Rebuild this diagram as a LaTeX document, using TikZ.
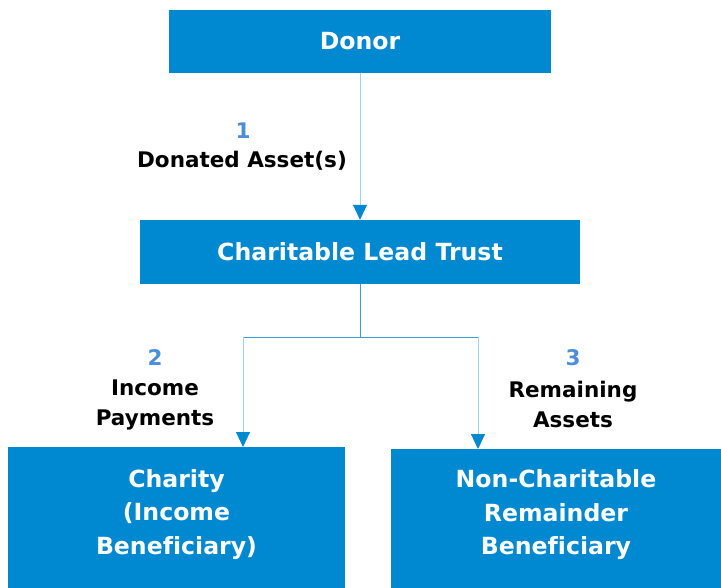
\documentclass[tikz,border=0pt]{standalone}
\usepackage{fontspec}
\setmainfont[Ligatures=NoCommon]{DejaVu Sans}
\usetikzlibrary{arrows.meta,positioning}

\definecolor{boxblue}{HTML}{0088D1}
\definecolor{numblue}{HTML}{4A90D9}
\definecolor{linklight}{HTML}{9DD3F2}
\definecolor{linkdark}{HTML}{3A9ADB}

\tikzset{
    box/.style={rectangle, fill=boxblue, inner sep=0pt},
    boxtext/.style={text=white, align=center, inner sep=0pt, font=\fontsize{23.6}{33.5}\selectfont\bfseries},
    flowlabel/.style={align=center, inner sep=0pt, font=\fontsize{21.5}{30}\selectfont\bfseries},
    flownum/.style={flowlabel, text=numblue},
    link/.style={draw=linklight, line width=0.9pt, -{Triangle[width=14pt,length=15pt,color=boxblue]}},
    stem/.style={draw=linkdark, line width=0.9pt}
}

\begin{document}
\begin{tikzpicture}[x=1pt,y={(0pt,-1pt)}]
    \useasboundingbox (0,0) rectangle (721,588);

    % boxes
    \node[box, minimum width=382pt, minimum height=63pt] (donor) at (360,41.5) {};
    \node[boxtext] (donortext) at (donor.center) {Donor};
    \node[box, minimum width=440pt, minimum height=64pt] (clt) at (360,252) {};
    \node[boxtext] (clttext) at (clt.center) {Charitable Lead Trust};
    \node[box, anchor=north, minimum width=337pt, minimum height=150pt] (charity) at (176.5,447) {};
    \node[boxtext] (charitytext) at ([yshift=-67.5pt]charity.north) {Charity\\(Income\\Beneficiary)};
    \node[box, anchor=north, minimum width=330pt, minimum height=150pt] (remainder) at (556,449) {};
    \node[boxtext] (remaindertext) at ([yshift=-66pt]remainder.north) {Non-Charitable\\Remainder\\Beneficiary};

    % labels
    \node[flownum] (num1) at (243,131) {1};
    \node[flowlabel] (lab1) at (242,161) {Donated Asset(s)};
    \node[flownum] (num2) at (155,358) {2};
    \node[flowlabel] (lab2) at (155,405) {Income\\Payments};
    \node[flownum] (num3) at (573,358) {3};
    \node[flowlabel] (lab3) at (573,404) {Remaining\\Assets};

    % connectors
    \coordinate (split) at (360,337);
    \coordinate (lefthook) at (243,337);
    \coordinate (righthook) at (478,337);
    \draw[link] (donor.south) -- (clt.north);
    \draw[stem] (clt.south) -- (split);
    \draw[stem] (lefthook) -- (righthook);
    \draw[link] (lefthook) -- (lefthook |- charity.north);
    \draw[link] (righthook) -- (righthook |- remainder.north);
\end{tikzpicture}
\end{document}
